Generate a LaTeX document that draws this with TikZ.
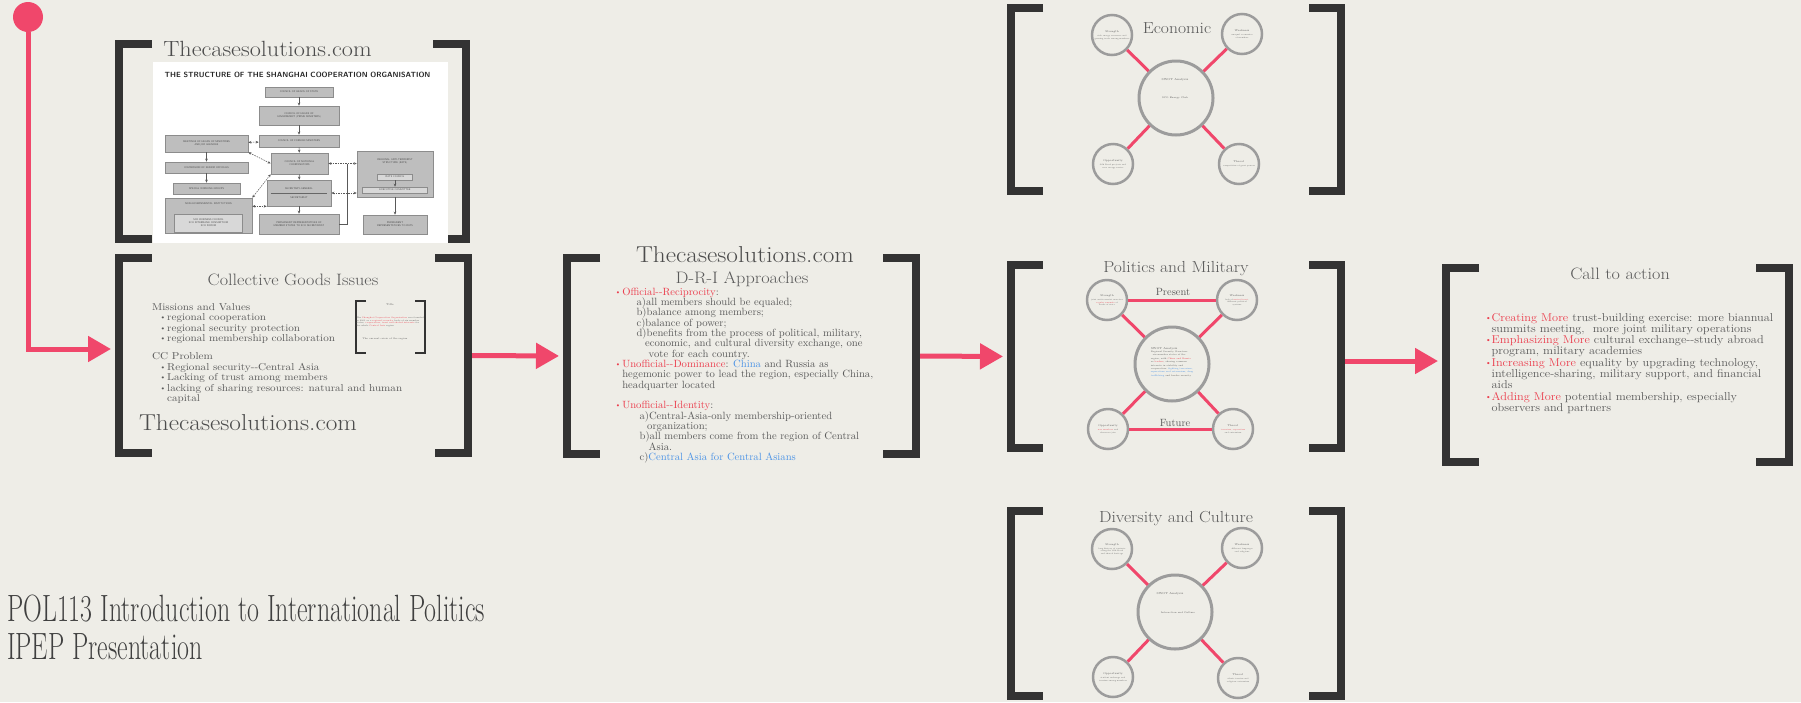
\documentclass[tikz,border=0pt]{standalone}
\usepackage{graphicx}
\usetikzlibrary{arrows.meta}

\definecolor{paper}{HTML}{EEEDE7}
\definecolor{ink}{HTML}{333333}
\definecolor{rose}{HTML}{F0476B}
\definecolor{txt}{HTML}{5A5A5A}
\definecolor{hot}{HTML}{EB3F4E}
\definecolor{sky}{HTML}{4D94E6}
\definecolor{ring}{HTML}{9C9C9C}
\definecolor{boxg}{HTML}{BEBEBE}

\newcommand{\sz}[2]{\fontsize{#1}{#2}\selectfont}
\newcommand{\bul}[1][6pt]{\makebox[#1][l]{\raisebox{0.2ex}{\scalebox{0.7}{\textbullet}}}}
\newcommand{\tline}[1]{\hbox{#1}}
\newcommand{\textblock}[4]{\resizebox{#1}{\height}{\vbox{\sz{#2}{#3}\lineskiplimit=-30pt #4}}}
\newcommand{\spothead}[1]{{\sz{2.6}{3.1}#1}}
\newcommand{\brackets}[3][]{%
  \draw[bracket,#1] ([xshift=#3]#2.north west) -- (#2.north west) -- (#2.south west) -- ([xshift=#3]#2.south west);
  \draw[bracket,#1] ([xshift=-#3]#2.north east) -- (#2.north east) -- (#2.south east) -- ([xshift=-#3]#2.south east);}

\begin{document}
\begin{tikzpicture}[x=1pt,y=-1pt,
    bracket/.style={ink,line width=8pt},
    panel/.style={inner sep=0,outer sep=0},
    flow/.style={rose,line width=5pt,-{Triangle[length=23pt,width=25pt]},shorten >=8pt},
    link/.style={rose,line width=3pt},
    hub/.style={circle,draw=ring,line width=3pt,fill=paper,minimum size=74pt,inner sep=0},
    spot/.style={circle,draw=ring,line width=2.5pt,fill=paper,minimum size=40pt,inner sep=0,align=center,text=txt,font=\sz{1.9}{2.4}},
    title/.style={text=txt,inner sep=0,xscale=1.1,transform shape},
    tiny/.style={text=txt,inner sep=0,align=center},
    body/.style={text=txt,inner sep=0,anchor=base west},
    org/.style={draw=black!45,fill=boxg,line width=0.6pt,inner sep=0,align=center,font=\sffamily\sz{2.5}{3.1},text=black!70},
    orgto/.style={-{Stealth[length=3pt,width=2.6pt]},line width=0.6pt,black!65},
    orgboth/.style={{Stealth[length=3pt,width=2.6pt]}-{Stealth[length=3pt,width=2.6pt]},line width=0.5pt,dash pattern=on 1.5pt off 1pt,black!65}]
    \useasboundingbox (0,0) rectangle (1801,702);
    \fill[paper] (0,0) rectangle (1801,702);

    \node[circle,fill=rose,minimum size=30pt,inner sep=0] (start) at (28,17) {};
    \node[panel,minimum width=347pt,minimum height=195pt] (chart) at (292.5,141.5) {};
    \node[panel,minimum width=349pt,minimum height=195pt] (cgi) at (293.5,355.5) {};
    \node[panel,minimum width=349pt,minimum height=196pt] (dri) at (741.5,356) {};
    \node[panel,minimum width=330pt,minimum height=183pt] (eco) at (1176,99.5) {};
    \node[panel,minimum width=330pt,minimum height=183pt] (pm) at (1176,356.5) {};
    \node[panel,minimum width=330pt,minimum height=185pt] (dc) at (1176,603.5) {};
    \node[panel,minimum width=343pt,minimum height=194pt] (cta) at (1617.5,365) {};

    \draw[flow] (start) |- ([yshift=6.5pt]cgi.west);
    \draw[flow] (cgi.east) -- (dri.west);
    \draw[flow] (dri.east) -- (pm.west);
    \coordinate (pmout) at ([yshift=-4.5pt]pm.east);
    \draw[flow] (pmout) -- (pmout -| cta.west);

    \brackets{chart}{33pt}
    \brackets{cgi}{33pt}
    \brackets{dri}{33pt}
    \brackets{eco}{32pt}
    \brackets{pm}{32pt}
    \brackets{dc}{32pt}
    \brackets{cta}{33pt}

    % chart
    \node[title,font=\sz{22}{22},text=black!70,anchor=base] (site1) at (267.5,56) {Thecasesolutions.com};
    \node[fill=white,minimum width=295pt,minimum height=181pt,inner sep=0] (shot) at (300.5,152.5) {};
    \node[font=\sffamily\bfseries\sz{7.5}{8},inner sep=0,text=black!85] (shottitle) at (297.5,75) {THE STRUCTURE OF THE SHANGHAI COOPERATION ORGANISATION};
    \node[org,minimum width=68pt,minimum height=10pt] (hos) at (299,92) {COUNCIL OF HEADS OF STATE};
    \node[org,minimum width=80pt,minimum height=19pt] (hog) at (299,115.5) {COUNCIL OF HEADS OF\\GOVERNMENT (PRIME MINISTERS)};
    \node[org,minimum width=80pt,minimum height=12pt] (cfm) at (299,141) {COUNCIL OF FOREIGN MINISTERS};
    \node[org,minimum width=83pt,minimum height=17pt] (mhm) at (206.5,143.5) {MEETINGS OF HEADS OF MINISTRIES\\AND/OR AGENCIES};
    \node[org,minimum width=83pt,minimum height=11pt] (cso) at (206.5,167.5) {COMMISSION OF SENIOR OFFICIALS};
    \node[org,minimum width=67pt,minimum height=11pt] (swg) at (206.5,188.5) {SPECIAL WORKING GROUPS};
    \node[org,minimum width=87pt,minimum height=35pt] (ngo) at (208.5,215.5) {};
    \node[tiny,font=\sffamily\sz{2.5}{3.1},text=black!70] (ngohead) at (208.5,204) {NON-GOVERNMENTAL INSTITUTIONS};
    \node[org,fill=boxg!60,minimum width=68pt,minimum height=18pt] (ngoin) at (208.5,223) {SCO BUSINESS COUNCIL\\SCO INTERBANK CONSORTIUM\\SCO FORUM};
    \node[org,minimum width=57pt,minimum height=21pt] (cnc) at (299.5,163.5) {COUNCIL OF NATIONAL\\COORDINATORS};
    \node[org,minimum width=64pt,minimum height=26pt] (sec) at (299,193) {SECRETARY-GENERAL\\[6pt]SECRETARIAT};
    \draw[black!60,line width=0.5pt] ([xshift=4pt]sec.west) -- ([xshift=-4pt]sec.east);
    \node[org,minimum width=80pt,minimum height=20pt] (prs) at (299,224) {PERMANENT REPRESENTATIVES OF\\MEMBER STATES TO SCO SECRETARIAT};
    \node[org,minimum width=76pt,minimum height=46pt] (rats) at (395,174) {};
    \node[tiny,font=\sffamily\sz{2.5}{3.1},text=black!70] (ratshead) at (395,161) {REGIONAL ANTI-TERRORIST\\STRUCTURE (RATS)};
    \node[org,fill=boxg!60,minimum width=35pt,minimum height=6pt] (ratsc) at (395,177) {RATS COUNCIL};
    \node[org,fill=boxg!60,minimum width=65pt,minimum height=6pt] (ratse) at (395,190) {EXECUTIVE COMMITTEE};
    \node[org,minimum width=64pt,minimum height=19pt] (prr) at (395,224.5) {PERMANENT\\REPRESENTATIVES TO RATS};
    \coordinate (orgjoin) at (347,163.5);
    \draw[orgto] (hos) -- (hog);
    \draw[orgto] (hog) -- (cfm);
    \draw[orgto] (cfm) -- (cnc);
    \draw[orgto] (cnc) -- (sec);
    \draw[orgto] (sec) -- (prs);
    \draw[orgto] (mhm) -- (cso);
    \draw[orgto] (cso) -- (swg);
    \draw[orgto] (ratsc) -- (ratse);
    \draw[orgto] (rats) -- (prr);
    \draw[orgboth] (cfm) -- (mhm);
    \draw[orgboth] (mhm.south east) -- (cnc.west);
    \draw[orgboth] (ngo.north east) -- (cnc.south west);
    \draw[orgboth] (ngo.east |- sec.south) -- (sec.south west);
    \draw[orgboth] (cnc.east) -- (rats.west |- cnc.east);
    \draw[orgboth] (sec.east) -- (rats.west |- sec.east);
    \draw[line width=0.6pt,black!65] (prs.east) -| (orgjoin);

    % collective goods
    \node[title,font=\sz{16.5}{16.5}] (cgihead) at (293,280) {Collective Goods Issues};
    \node[body] (cgitext) at (152,401.5) {\textblock{250pt}{10}{10.5}{%
        \tline{Missions and Values}
        \tline{\hspace*{7pt}\bul[6.5pt]regional cooperation}
        \tline{\hspace*{7pt}\bul[6.5pt]regional security protection}
        \tline{\hspace*{7pt}\bul[6.5pt]regional membership collaboration}
        \vskip7.5pt
        \tline{CC Problem}
        \tline{\hspace*{7pt}\bul[6.5pt]Regional security-{}-Central Asia}
        \tline{\hspace*{7pt}\bul[6.5pt]Lacking of trust among members}
        \tline{\hspace*{7pt}\bul[6.5pt]lacking of sharing resources: natural and human}
        \tline{\hspace*{13.5pt}capital}}};
    \node[title,font=\sz{23}{23},text=black!70,anchor=base] (site2) at (248,430) {Thecasesolutions.com};
    \node[panel,minimum width=69pt,minimum height=52pt] (mini) at (390.5,327) {};
    \brackets[line width=2.5pt]{mini}{10pt}
    \node[tiny,font=\sz{2.6}{3}] (minihead) at (390,305) {Title};
    \node[tiny,font=\sz{2.1}{2.8},align=left] (minitext) at (390,322) {The \textcolor{hot}{Shanghai Cooperation Organisation} was founded\\
        in 2001 as a \textcolor{hot}{regional security} body of six member\\
        states; \textcolor{hot}{cooperation, trust and shared interests} for\\
        the whole \textcolor{hot}{Central Asia} region};
    \node[tiny,font=\sz{2.4}{3}] (minifoot) at (385,339) {The current crisis of the region};

    % D-R-I
    \node[title,font=\sz{23}{23},text=black!70,anchor=base] (site3) at (745,262) {Thecasesolutions.com};
    \node[title,font=\sz{16.6}{16.6},anchor=base] (drihead) at (742,283) {D-R-I Approaches};
    \node[body] (dritext) at (615,460.6) {\textblock{258pt}{10.5}{10.35}{%
        \tline{\textcolor{hot}{\bul[7pt]Official-{}-Reciprocity}:}
        \tline{\hspace*{21pt}a)all members should be equaled;}
        \tline{\hspace*{21pt}b)balance among members;}
        \tline{\hspace*{21pt}c)balance of power;}
        \tline{\hspace*{21pt}d)benefits from the process of political, military,}
        \tline{\hspace*{29.5pt}economic, and cultural diversity exchange, one}
        \tline{\hspace*{33pt}vote for each country.}
        \tline{\textcolor{hot}{\bul[7pt]Unofficial-{}-Dominance}: \textcolor{sky}{China} and Russia as}
        \tline{\hspace*{7pt}hegemonic power to lead the region, especially China,}
        \tline{\hspace*{7pt}headquarter located}
        \tline{}
        \tline{\textcolor{hot}{\bul[7pt]Unofficial-{}-Identity}:}
        \tline{\hspace*{24pt}a)Central-Asia-only membership-oriented}
        \tline{\hspace*{31.5pt}organization;}
        \tline{\hspace*{24pt}b)all members come from the region of Central}
        \tline{\hspace*{33pt}Asia.}
        \tline{\hspace*{24pt}c)\textcolor{sky}{Central Asia for Central Asians}}}};

    % economic
    \node[title,font=\sz{16}{16},anchor=base] (ecohead) at (1177,33) {Economic};
    \node[hub] (ecoc) at (1176,98) {};
    \node[spot] (ecotl) at (1112,35) {\spothead{Strength}\\[2pt]rich energy resources and\\growing trade among members};
    \node[spot] (ecotr) at (1242,34) {\spothead{Weakness}\\[2pt]unequal economies\\of members};
    \node[spot] (ecobl) at (1113,164) {\spothead{Opportunity}\\[2pt]Silk Road projects and\\new energy routes};
    \node[spot] (ecobr) at (1239,164) {\spothead{Threat}\\[2pt]competition of great powers};
    \foreach \s in {tl,tr,bl,br} \draw[link] (ecoc) -- (eco\s);
    \node[tiny,font=\sz{2.8}{3.4}] (ecoct) at (1175,80) {SWOT Analysis};
    \node[tiny,font=\sz{2.4}{3}] (ecocs) at (1175,98) {SCO Energy Club};

    % politics and military
    \node[title,font=\sz{16}{16},anchor=base] (pmhead) at (1176,272) {Politics and Military};
    \node[hub] (pmc) at (1172,364) {};
    \node[spot] (pmtl) at (1107,300) {\spothead{Strength}\\[2pt]joint anti-terrorist exercises\\\textcolor{hot}{regular summits} of\\heads of state};
    \node[spot] (pmtr) at (1237,300) {\spothead{Weakness}\\[2pt]lack of \textcolor{hot}{mutual trust},\\different political\\systems};
    \node[spot] (pmbl) at (1108,429) {\spothead{Opportunity}\\[2pt]\textcolor{hot}{new members} and\\observers join};
    \node[spot] (pmbr) at (1233,429) {\spothead{Threat}\\[2pt]\textcolor{hot}{terrorism, separatism}\\and extremism};
    \foreach \s in {tl,tr,bl,br} \draw[link] (pmc) -- (pm\s);
    \draw[link] (pmtl) -- (pmtr);
    \draw[link] (pmbl) -- (pmbr);
    \node[text=txt,inner sep=0,font=\sz{10.5}{10.5},anchor=base] (present) at (1173,295) {Present};
    \node[text=txt,inner sep=0,font=\sz{10.5}{10.5},anchor=base] (future) at (1175,426) {Future};
    \node[tiny,font=\sz{2.2}{3.4},align=left] (pmct) at (1172,362) {{\sz{2.8}{3.4}SWOT Analysis}\\
        Regional Security Structure\\
        \quad six member states of the\\
        region, with \textcolor{hot}{China and Russia}\\
        as \textcolor{hot}{leaders}, sharing common\\
        interests in stability and\\
        cooperation: \textcolor{sky}{fighting terrorism,}\\
        \textcolor{sky}{separatism and extremism; drug}\\
        \textcolor{sky}{trafficking} and border security};

    % diversity and culture
    \node[title,font=\sz{16}{16},anchor=base] (dchead) at (1176,522) {Diversity and Culture};
    \node[hub] (dcc) at (1175,612) {};
    \node[spot] (dctl) at (1112,549) {\spothead{Strength}\\[2pt]long history of contacts\\along the Silk Road\\and shared heritage};
    \node[spot] (dctr) at (1242,548) {\spothead{Weakness}\\[2pt]different languages\\and religions};
    \node[spot] (dcbl) at (1113,677) {\spothead{Opportunity}\\[2pt]student exchange and\\tourism among members};
    \node[spot] (dcbr) at (1238,678) {\spothead{Threat}\\[2pt]ethnic tension and\\religious extremism};
    \foreach \s in {tl,tr,bl,br} \draw[link] (dcc) -- (dc\s);
    \node[tiny,font=\sz{2.8}{3.4}] (dcct) at (1170,594) {SWOT Analysis};
    \node[tiny,font=\sz{2.4}{3}] (dccs) at (1178,613) {Interaction and Culture};

    % call to action
    \node[title,font=\sz{16.5}{16.5},anchor=base] (ctahead) at (1620,279) {Call to action};
    \node[body] (ctatext) at (1485,411.4) {\textblock{288pt}{11.4}{11.3}{%
        \tline{\textcolor{hot}{\bul Creating More} trust-building exercise: more biannual}
        \tline{\hspace*{6pt}summits meeting,\ \ more joint military operations}
        \tline{\textcolor{hot}{\bul Emphasizing More} cultural exchange-{}-study abroad}
        \tline{\hspace*{6pt}program, military academies}
        \tline{\textcolor{hot}{\bul Increasing More} equality by upgrading technology,}
        \tline{\hspace*{6pt}intelligence-sharing, military support, and financial}
        \tline{\hspace*{6pt}aids}
        \tline{\textcolor{hot}{\bul Adding More} potential membership, especially}
        \tline{\hspace*{6pt}observers and partners}}};

    \node[body,text=black!75] (course) at (7,659) {\textblock{478pt}{38}{38}{%
        \tline{POL113 Introduction to International Politics}
        \tline{IPEP Presentation}}};
\end{tikzpicture}
\end{document}
